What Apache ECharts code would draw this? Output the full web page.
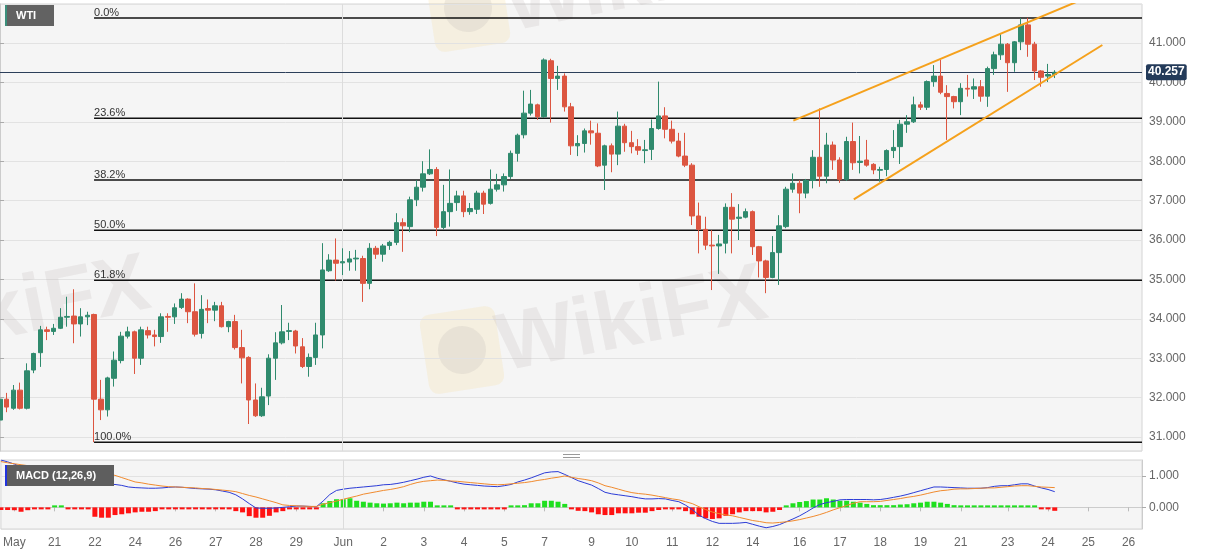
<!DOCTYPE html>
<html><head><meta charset="utf-8">
<script src="https://cdn.jsdelivr.net/npm/echarts@6/dist/echarts.min.js"></script>
<style>html,body{margin:0;padding:0;background:#fff}#c{width:1207px;height:555px}</style>
</head><body><div id="c"></div>
<script>
const tickLabels = ['May','21','22','24','26','27','28','29','Jun','2','3','4','5','7','9','10','11','12','14','16','17','18','19','21','23','24','25','26'];
const tickIndex = [2,8,14,20,26,32,38,44,51,57,63,69,75,81,88,94,100,106,112,119,125,131,137,143,150,156,162,168];
const slotCount = 171;

const open = [31.43,31.96,31.73,32.19,31.73,32.70,33.14,33.72,33.68,33.76,
34.04,34.07,33.87,34.05,34.11,31.96,31.69,32.49,32.94,33.56,
33.67,33.00,33.70,33.59,33.55,34.06,34.05,34.29,34.50,34.18,
33.63,34.26,34.22,34.33,33.80,33.93,33.27,33.02,31.94,31.54,
32.04,33.00,33.39,33.68,33.69,33.29,32.79,33.02,33.59,35.22,
35.49,35.42,35.44,35.52,35.53,34.90,35.79,35.64,35.86,35.94,
36.44,36.34,37.02,37.34,37.68,37.79,36.32,36.72,36.95,37.12,
36.72,36.78,37.19,36.93,37.29,37.40,37.61,38.20,38.67,39.22,
39.43,39.13,40.55,40.10,40.16,39.38,38.39,38.45,38.77,38.71,
37.90,38.39,38.18,38.89,38.47,38.37,38.27,38.30,38.83,39.15,
38.81,38.51,38.13,37.90,36.61,36.27,35.87,35.85,35.92,36.83,
36.55,36.58,36.72,35.83,35.47,35.05,35.68,36.34,37.29,37.44,
37.19,37.51,38.10,37.62,38.41,38.03,37.54,38.50,37.97,38.03,
37.92,37.77,37.79,38.27,38.37,38.94,39.00,39.43,39.37,40.02,
40.16,39.72,39.64,39.51,39.85,39.83,39.89,39.65,40.35,40.70,
40.97,40.50,41.03,41.46,40.97,40.29,40.16,40.20];
const close = [31.96,31.76,32.19,31.73,32.68,33.12,33.72,33.68,33.76,34.04,
34.06,33.87,34.05,34.09,31.96,31.69,32.50,32.95,33.56,33.67,
33.00,33.72,33.59,33.55,34.05,34.04,34.28,34.50,34.18,33.61,
34.24,34.22,34.33,33.80,33.93,33.27,33.01,31.94,31.54,32.02,
33.00,33.39,33.67,33.70,33.31,32.79,33.02,33.59,35.24,35.49,
35.41,35.45,35.52,35.54,34.90,35.79,35.64,35.85,35.94,36.44,
36.36,37.02,37.34,37.68,37.79,36.32,36.72,36.93,37.12,36.72,
36.80,37.19,36.91,37.29,37.40,37.61,38.20,38.66,39.22,39.45,
39.13,40.57,40.10,40.16,39.38,38.39,38.45,38.77,38.72,37.88,
38.39,38.18,38.89,38.47,38.37,38.28,38.29,38.83,39.15,38.81,
38.51,38.13,37.90,36.61,36.27,35.87,35.85,35.90,36.83,36.53,
36.58,36.72,35.83,35.47,35.05,35.68,36.36,37.29,37.44,37.19,
37.51,38.10,37.62,38.41,38.03,37.54,38.50,37.96,38.00,37.90,
37.78,37.79,38.27,38.35,38.94,39.00,39.43,39.37,40.02,40.16,
39.75,39.64,39.51,39.85,39.83,39.89,39.65,40.35,40.70,40.97,
40.50,41.03,41.46,40.97,40.29,40.13,40.20,40.257];
const low = [31.30,31.63,31.69,31.70,31.70,32.62,32.78,33.46,33.59,33.74,
33.80,33.38,33.55,33.84,30.87,31.43,31.52,32.28,32.87,33.50,
32.60,32.83,33.50,33.30,33.39,33.67,33.87,34.25,33.89,33.55,
33.50,33.89,33.94,33.78,33.66,33.22,32.36,31.33,31.51,31.51,
31.81,32.45,33.35,33.46,33.12,32.75,32.53,32.83,33.25,35.19,
34.97,35.11,35.22,35.22,34.43,34.75,35.52,35.45,35.75,35.87,
35.70,36.20,36.86,37.23,37.65,36.10,36.27,36.34,36.74,36.58,
36.64,36.66,36.66,36.90,37.23,37.23,37.55,37.99,38.58,39.16,
39.05,39.10,38.98,39.81,39.26,38.16,38.13,38.22,38.42,37.85,
37.27,37.72,37.90,38.24,38.20,38.16,37.95,38.03,38.80,38.58,
38.45,38.10,37.85,36.38,35.66,35.75,34.73,35.14,35.66,35.66,
36.00,36.55,35.62,35.05,34.65,35.03,34.86,36.30,37.20,36.68,
37.06,37.31,37.35,37.44,37.78,37.45,37.50,37.78,37.69,37.86,
37.67,37.48,37.62,38.08,37.93,38.72,38.97,39.30,39.30,39.89,
39.70,38.54,39.34,39.17,39.64,39.58,39.51,39.38,40.19,40.57,
39.76,40.27,40.82,40.65,40.06,39.89,40.01,40.11];
const high = [32.00,32.12,32.32,32.38,32.87,33.14,33.82,33.80,33.87,34.27,
34.56,34.75,34.27,34.18,34.13,32.45,32.53,33.17,33.67,33.80,
33.70,33.80,33.80,33.72,34.14,34.14,34.39,34.65,34.52,34.90,
34.60,34.49,34.43,34.43,33.95,34.10,33.72,33.05,32.36,32.25,
33.10,33.66,34.35,33.90,33.72,33.51,33.12,33.90,35.92,35.64,
36.04,35.79,35.72,35.75,35.60,35.92,35.85,35.90,35.98,36.68,
36.55,37.10,37.52,38.00,38.30,37.85,37.40,37.79,37.25,37.25,
36.94,37.25,37.25,37.79,37.68,37.69,38.27,38.70,39.79,39.81,
39.46,40.61,40.60,40.42,40.23,39.48,38.66,38.83,39.03,38.96,
38.42,38.45,39.26,38.95,38.77,38.56,38.54,39.06,40.02,39.37,
39.03,38.72,38.72,37.95,36.95,36.59,36.25,36.13,36.93,37.19,
36.91,36.80,36.75,35.85,35.50,36.10,36.63,37.35,37.69,37.52,
37.55,38.28,39.34,38.72,38.50,38.10,38.62,38.98,38.64,38.54,
37.95,37.86,38.30,38.79,39.05,39.17,39.64,39.51,40.05,40.44,
40.57,39.93,39.66,39.98,40.19,40.10,40.06,40.40,40.78,41.25,
41.00,41.05,41.63,41.64,41.03,40.31,40.47,40.31];

const macdLine = [1.51,1.45,1.38,1.30,1.22,1.15,1.08,1.01,0.95,0.90,
0.86,0.82,0.80,0.78,0.76,0.74,0.72,0.73,0.70,0.65,
0.63,0.62,0.61,0.61,0.62,0.64,0.65,0.64,0.62,0.60,
0.59,0.58,0.56,0.52,0.48,0.40,0.27,0.12,-0.02,-0.03,
-0.03,-0.02,0.00,0.02,0.04,0.04,0.03,0.02,0.20,0.41,
0.54,0.58,0.61,0.63,0.65,0.67,0.69,0.72,0.73,0.76,
0.80,0.85,0.90,0.96,1.00,0.93,0.88,0.83,0.78,0.74,
0.72,0.70,0.68,0.67,0.66,0.69,0.73,0.81,0.87,0.94,
1.02,1.10,1.13,1.14,1.05,0.95,0.85,0.78,0.71,0.60,
0.48,0.43,0.40,0.37,0.34,0.30,0.27,0.27,0.28,0.27,
0.22,0.18,0.07,-0.07,-0.25,-0.36,-0.45,-0.51,-0.51,-0.51,
-0.50,-0.48,-0.54,-0.60,-0.65,-0.61,-0.55,-0.46,-0.37,-0.27,
-0.15,-0.02,0.09,0.15,0.19,0.24,0.25,0.25,0.25,0.25,
0.24,0.25,0.28,0.32,0.36,0.41,0.47,0.53,0.59,0.65,
0.65,0.64,0.63,0.62,0.61,0.61,0.61,0.63,0.67,0.69,
0.69,0.72,0.75,0.75,0.68,0.62,0.57,0.50];
const signalLine = [1.46,1.42,1.39,1.36,1.33,1.30,1.29,1.28,1.28,1.27,
1.26,1.26,1.25,1.21,1.16,1.11,1.06,1.02,0.95,0.88,
0.81,0.78,0.74,0.71,0.68,0.66,0.65,0.64,0.63,0.62,
0.60,0.59,0.57,0.55,0.53,0.50,0.44,0.38,0.33,0.27,
0.21,0.15,0.08,0.06,0.05,0.04,0.03,0.03,0.10,0.15,
0.20,0.26,0.31,0.36,0.42,0.46,0.50,0.54,0.57,0.61,
0.66,0.73,0.79,0.83,0.85,0.87,0.86,0.84,0.83,0.81,
0.79,0.77,0.75,0.73,0.72,0.73,0.75,0.77,0.79,0.82,
0.86,0.89,0.93,0.96,1.00,0.96,0.92,0.89,0.85,0.78,
0.69,0.64,0.58,0.52,0.47,0.44,0.42,0.39,0.35,0.31,
0.27,0.24,0.18,0.12,0.02,-0.07,-0.15,-0.20,-0.24,-0.27,
-0.32,-0.37,-0.42,-0.45,-0.49,-0.50,-0.48,-0.46,-0.43,-0.39,
-0.34,-0.29,-0.23,-0.16,-0.08,-0.01,0.06,0.13,0.18,0.18,
0.18,0.19,0.22,0.25,0.28,0.32,0.35,0.39,0.44,0.49,
0.53,0.55,0.58,0.59,0.59,0.60,0.61,0.62,0.62,0.64,
0.66,0.68,0.69,0.69,0.67,0.65,0.64,0.63];
const macdHist = [-0.085,-0.085,-0.09,-0.14,-0.09,-0.03,-0.02,-0.01,0.01,0.02,
-0.02,-0.02,-0.02,-0.02,-0.30,-0.33,-0.33,-0.245,-0.22,-0.19,
-0.16,-0.14,-0.14,-0.12,-0.05,-0.03,-0.03,-0.03,-0.03,-0.03,
-0.04,-0.05,-0.05,-0.05,-0.05,-0.12,-0.16,-0.28,-0.33,-0.33,
-0.27,-0.16,-0.12,-0.05,-0.03,-0.03,-0.03,-0.03,0.13,0.20,
0.26,0.26,0.29,0.21,0.18,0.15,0.13,0.12,0.13,0.15,
0.13,0.15,0.15,0.18,0.18,0.05,0.02,0.01,-0.03,-0.06,
-0.06,-0.06,-0.06,-0.05,-0.05,-0.03,0.01,0.02,0.07,0.13,
0.13,0.21,0.21,0.18,0.11,-0.02,-0.11,-0.12,-0.16,-0.22,
-0.245,-0.245,-0.19,-0.19,-0.19,-0.17,-0.17,-0.12,-0.085,-0.06,
-0.06,-0.06,-0.12,-0.22,-0.30,-0.35,-0.37,-0.35,-0.27,-0.22,
-0.16,-0.12,-0.12,-0.12,-0.16,-0.14,-0.085,0.02,0.13,0.17,
0.20,0.25,0.25,0.29,0.25,0.21,0.21,0.18,0.15,0.11,
0.07,0.07,0.07,0.07,0.09,0.10,0.13,0.15,0.18,0.18,
0.15,0.11,0.07,0.05,0.04,0.03,0.00,0.01,0.02,0.03,
0.03,0.04,0.05,0.03,0.00,-0.05,-0.05,-0.11];

const fibHigh = 41.635;
const fibLow = 30.865;
const fibRatios = [0, 0.236, 0.382, 0.5, 0.618, 1];
const fibStartIndex = 14;
const upperTrend = [[118.1, 39.03], [163.0, 42.24]];
const lowerTrend = [[127.1, 37.03], [164.1, 40.95]];
const lastPrice = 40.257;

const FONT = '"Liberation Sans", Arial, sans-serif';
const UP = '#2f8a6d', DOWN = '#dc5540';
const categories = Array.from({length: slotCount}, () => '');
tickIndex.forEach((k, j) => { categories[k] = tickLabels[j]; });
const junIndex = tickIndex[tickLabels.indexOf('Jun')];
const candles = open.map((o, i) => [o, close[i], low[i], high[i]]);
const isLabel = (idx) => categories[idx] !== '';

const fibSeries = fibRatios.map(r => {
  const lvl = fibHigh - (fibHigh - fibLow) * r;
  return {
    type: 'line', xAxisIndex: 2, yAxisIndex: 0, silent: true, z: 3,
    symbol: 'circle', symbolSize: 0, showSymbol: true,
    lineStyle: {color: '#111', width: 1.5},
    label: {show: false, position: 'top', align: 'left', distance: 0, color: '#333', fontSize: 11, fontFamily: FONT},
    data: [{value: [fibStartIndex, lvl], label: {show: true, formatter: (r * 100).toFixed(1) + '%'}}, [slotCount - 1, lvl]]
  };
});

const wmText = (x, y) => ({type: 'text', x: x, y: y, rotation: 0.2, z: 1,
  style: {text: 'WikiFX', fill: 'rgba(190,180,180,0.22)', font: 'bold 82px ' + FONT, align: 'center', verticalAlign: 'middle'}});
const wmLogo = (x, y) => ({type: 'group', x: x, y: y, rotation: 0.15, z: 1, children: [
  {type: 'rect', shape: {x: -38, y: -40, width: 76, height: 80, r: 10}, style: {fill: 'rgba(245,220,150,0.22)'}},
  {type: 'circle', shape: {cx: 0, cy: 0, r: 24}, style: {fill: 'rgba(170,160,160,0.16)'}}
]});

const chart = echarts.init(document.getElementById('c'), null, {renderer: 'canvas'});
chart.setOption({
  animation: false,
  backgroundColor: '#fff',
  textStyle: {fontFamily: FONT},
  grid: [
    {left: 0, width: 1142, top: 4, height: 447, show: true, backgroundColor: '#f5f5f5', borderColor: '#d4d4d4', borderWidth: 1},
    {left: 0, width: 1142, top: 460, height: 69, show: true, backgroundColor: '#f5f5f5', borderColor: '#d4d4d4', borderWidth: 1}
  ],
  xAxis: [
    {type: 'category', gridIndex: 0, data: categories, boundaryGap: false, show: false},
    {type: 'category', gridIndex: 1, data: categories, boundaryGap: false,
      axisLine: {lineStyle: {color: '#ccc'}},
      axisTick: {interval: isLabel, length: 4, lineStyle: {color: '#bbb'}},
      axisLabel: {interval: isLabel, color: '#666', fontSize: 12, margin: 8},
      splitLine: {show: false}},
    {type: 'value', gridIndex: 0, min: 0, max: slotCount - 1, show: false}
  ],
  yAxis: [
    {type: 'value', gridIndex: 0, position: 'right', min: 30.645, max: 41.99, splitNumber: 11,
      axisLine: {show: true, lineStyle: {color: '#ccc'}},
      axisTick: {show: true, length: 4, lineStyle: {color: '#aaa'}},
      axisLabel: {color: '#666', fontSize: 12, margin: 7, showMinLabel: false, showMaxLabel: false,
        formatter: v => Math.abs(v - Math.round(v)) < 1e-6 ? v.toFixed(3) : ''},
      splitLine: {lineStyle: {color: '#e2e2e2'}}},
    {type: 'value', gridIndex: 1, position: 'right', min: -0.69, max: 1.51, splitNumber: 2,
      axisLine: {show: true, lineStyle: {color: '#ccc'}},
      axisTick: {show: true, length: 4, lineStyle: {color: '#aaa'}},
      axisLabel: {color: '#666', fontSize: 12, margin: 7, showMinLabel: false, showMaxLabel: false,
        formatter: v => Math.abs(v - Math.round(v)) < 1e-6 ? v.toFixed(3) : ''},
      splitLine: {lineStyle: {color: '#e2e2e2'}}}
  ],
  series: [
    {type: 'candlestick', xAxisIndex: 0, yAxisIndex: 0, data: candles, barWidth: 5, z: 5,
      itemStyle: {color: UP, color0: DOWN, borderColor: UP, borderColor0: DOWN, borderWidth: 1},
      markLine: {silent: true, symbol: 'none', animation: false,
        data: [
          {xAxis: junIndex, lineStyle: {color: '#dcdcdc', width: 1, type: 'solid'}, label: {show: false}},
          {yAxis: lastPrice, lineStyle: {color: '#2c3f5a', width: 1, type: 'solid'},
            label: {show: true, position: 'end', distance: 4, formatter: lastPrice.toFixed(3),
              backgroundColor: '#243b5a', color: '#fff', fontWeight: 'bold', fontSize: 12, padding: [2, 2, 2, 2], borderRadius: 2}}
        ]}},
    ...fibSeries,
    {type: 'line', xAxisIndex: 2, yAxisIndex: 0, data: upperTrend, showSymbol: false, silent: true, z: 6,
      lineStyle: {color: '#f5a11c', width: 2}},
    {type: 'line', xAxisIndex: 2, yAxisIndex: 0, data: lowerTrend, showSymbol: false, silent: true, z: 6,
      lineStyle: {color: '#f5a11c', width: 2}},
    {type: 'bar', xAxisIndex: 1, yAxisIndex: 1, data: macdHist, barWidth: 5, barMinHeight: 2,
      itemStyle: {color: p => p.value >= 0 ? '#1fe01f' : '#ff1212'},
      markLine: {silent: true, symbol: 'none', data: [{xAxis: junIndex}], lineStyle: {color: '#dcdcdc', width: 1, type: 'solid'}, label: {show: false}}},
    {type: 'line', xAxisIndex: 1, yAxisIndex: 1, data: macdLine, showSymbol: false, silent: true,
      lineStyle: {color: '#2b3bd6', width: 1}},
    {type: 'line', xAxisIndex: 1, yAxisIndex: 1, data: signalLine, showSymbol: false, silent: true,
      lineStyle: {color: '#f08a2e', width: 1}}
  ],
  graphic: [
    wmLogo(462, 350), wmText(632, 322), wmText(15, 312), wmLogo(468, 8), wmText(640, -18),
    {type: 'rect', shape: {x: 5, y: 5, width: 49, height: 21}, style: {fill: '#626262'}, z: 100},
    {type: 'rect', shape: {x: 5, y: 5, width: 2, height: 21}, style: {fill: '#3b8f7b'}, z: 101},
    {type: 'text', x: 16, y: 15.5, style: {text: 'WTI', fill: '#fff', font: 'bold 11px ' + FONT, verticalAlign: 'middle'}, z: 102},
    {type: 'rect', shape: {x: 5, y: 465, width: 109, height: 21}, style: {fill: '#5e5e5e'}, z: 100},
    {type: 'rect', shape: {x: 5, y: 465, width: 2, height: 21}, style: {fill: '#2233dd'}, z: 101},
    {type: 'text', x: 16, y: 475.5, style: {text: 'MACD (12,26,9)', fill: '#fff', font: 'bold 11px ' + FONT, verticalAlign: 'middle'}, z: 102},
    {type: 'line', shape: {x1: 563, y1: 454.5, x2: 580, y2: 454.5}, style: {stroke: '#999', lineWidth: 1}, z: 100},
    {type: 'line', shape: {x1: 563, y1: 457.5, x2: 580, y2: 457.5}, style: {stroke: '#999', lineWidth: 1}, z: 100}
  ]
});
</script>
</body></html>
